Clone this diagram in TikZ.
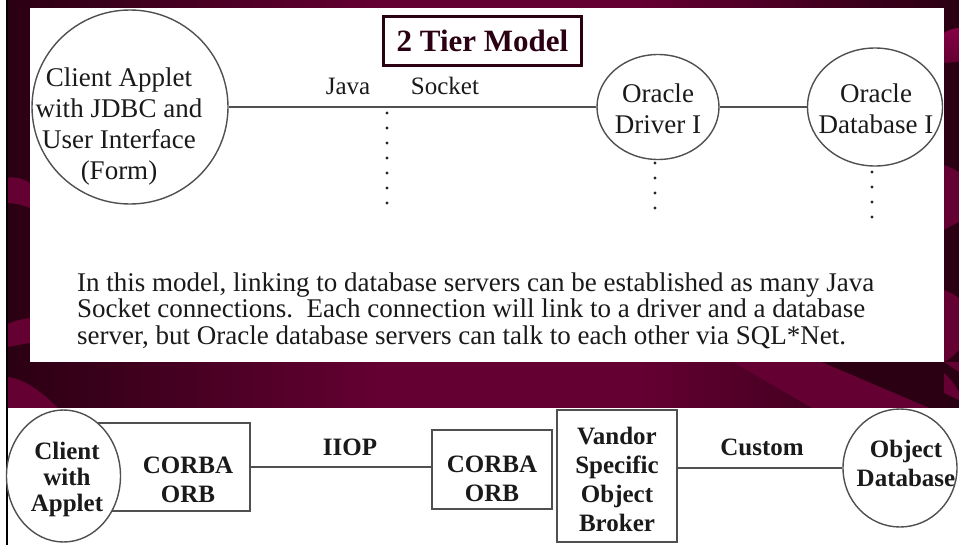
\documentclass[tikz,border=0pt]{standalone}
\usepackage{fontspec}
\setmainfont{Liberation Serif}
\usetikzlibrary{shapes.geometric}
\definecolor{dk}{HTML}{2A0012}
\definecolor{mr}{HTML}{640032}
\definecolor{mb}{HTML}{860046}
\definecolor{ln}{HTML}{505050}
\definecolor{tx}{HTML}{1A1A1A}
\tikzset{
  ell/.style={ellipse, draw=ln, line width=1.4pt, fill=white, inner sep=0pt},
  boxn/.style={rectangle, draw=ln, line width=1.4pt, fill=white, inner sep=0pt},
  txt/.style={align=center, inner sep=0pt, text=tx, font=\fontsize{27}{31}\selectfont},
  btxt/.style={align=center, inner sep=0pt, text=tx, font=\fontsize{25}{29}\selectfont\bfseries},
  conn/.style={draw=ln, line width=1.5pt},
  dotl/.style={draw=black!85, line width=3.2pt, line cap=round, dash pattern=on 0pt off 15pt},
}
\begin{document}
\begin{tikzpicture}[x=1pt,y=-1pt]
\useasboundingbox (0,0) rectangle (959,544);
\begin{scope}
\clip (0,0) rectangle (959,544);
% background
\fill[dk] (0,0) rectangle (959,544);
\shade[left color=dk, right color=mr] (0,0) rectangle (380,408);
\fill[mr] (380,0) rectangle (640,408);
\shade[left color=mr, right color=dk] (640,0) rectangle (959,408);
% diagonal bands between the panels
\fill[mr] (733,362) -- (822,362) -- (930,408) -- (812,408) -- cycle;
\fill[dk] (822,362) -- (944,362) -- (959,372) -- (959,408) -- (930,408) -- cycle;
\fill[mr] (944,362) -- (959,362) -- (959,372) -- cycle;
% left strip bands
\fill[mr] (7,178) .. controls (15,176) and (24,179) .. (30,183) -- (30,208) .. controls (22,205) and (14,203) .. (7,203) -- cycle;
\fill[mr] (7,324) .. controls (15,321) and (22,319) .. (30,318) -- (30,343) .. controls (22,344) and (14,346) .. (7,347) -- cycle;
\fill[mr] (7,377) .. controls (25,378) and (45,395) .. (58,408) -- (7,408) -- cycle;
% right strip bands
\shade[top color=mb, bottom color=mr] (944,33) .. controls (949,30) and (954,28) .. (959,28) -- (959,62) -- (944,63) -- cycle;
\fill[mr] (944,165) .. controls (950,167) and (955,170) .. (959,172) -- (959,222) .. controls (954,224) and (949,227) .. (944,230) -- cycle;
\fill[mr] (944,290) .. controls (950,292) and (955,295) .. (959,298) -- (959,350) .. controls (954,355) and (949,360) .. (944,362) -- cycle;
\fill[mr] (944,373) .. controls (950,378) and (955,385) .. (959,392) -- (959,400) -- (944,393) -- cycle;
% left white edge and black rule
\fill[white] (-2,-2) rectangle (6,546);
\fill[black] (6,-2) rectangle (7.5,546);
% panels
\fill[white] (30,8) rectangle (944,362);
\fill[white] (7.5,408) rectangle (961,546);
\end{scope}

% ---- top panel: 2 tier model
\node[ell, minimum width=196, minimum height=194] (cl) at (130,107) {};
\node[txt] (clt) at (119,127) {Client Applet\\with JDBC and\\User Interface\\(Form)};
\node[ell, minimum width=122, minimum height=105] (drv) at (658,107) {};
\node[txt] (drvt) at (658,109) {Oracle\\Driver I};
\node[ell, minimum width=135, minimum height=118] (db) at (875,107) {};
\node[txt] (dbt) at (876,109) {Oracle\\Database I};
\draw[conn] (cl.east) -- (cl.east -| drv.west);
\draw[conn] (drv.east) -- (drv.east -| db.west);
\node[txt, anchor=base, font=\fontsize{25}{29}\selectfont] (java) at (348,94) {Java};
\node[txt, anchor=base, font=\fontsize{25}{29}\selectfont] (sock) at (445,94) {Socket};
\coordinate (j1) at (387,113);
\coordinate (j2) at (387,204);
\draw[dotl] (j1) -- (j2);
\coordinate (d1) at (655,163);
\coordinate (d2) at (655,209);
\draw[dotl] (d1) -- (d2);
\coordinate (e1) at (872,172);
\coordinate (e2) at (872,218);
\draw[dotl] (e1) -- (e2);
\node[rectangle, draw=dk, line width=3pt, fill=white, minimum width=198, minimum height=49, inner sep=0pt, text=dk, font=\fontsize{31}{31}\selectfont\bfseries] (title) at (482.5,41) {2 Tier Model};
\node[txt, anchor=base west] (p1) at (77,291) {In this model, linking to database servers can be established as many Java};
\node[txt, anchor=base west] (p2) at (77,317.5) {Socket connections.\ \ Each connection will link to a driver and a database};
\node[txt, anchor=base west] (p3) at (77,344) {server, but Oracle database servers can talk to each other via SQL*Net.};

% ---- bottom panel: CORBA
\node[boxn, minimum width=170, minimum height=88] (b1) at (165,467) {};
\node[ell, minimum width=114, minimum height=132] (bc) at (63.5,476) {};
\node[btxt, font=\fontsize{25}{26}\selectfont\bfseries] (bct) at (67,479) {Client\\with\\Applet};
\node[btxt] (b1t) at (188,480) {CORBA\\ORB};
\node[boxn, minimum width=120, minimum height=79] (b2) at (492,469.5) {};
\node[btxt] (b2t) at (492,479) {CORBA\\ORB};
\node[boxn, minimum width=120, minimum height=132] (vb) at (617,476) {};
\node[btxt] (vbt) at (617,479) {Vandor\\Specific\\Object\\Broker};
\node[ell, minimum width=114, minimum height=118] (od) at (900,468) {};
\node[btxt] (odt) at (906,463) {Object\\Database};
\draw[conn] (b1.east) -- (b1.east -| b2.west);
\draw[conn] (od.west -| vb.east) -- (od.west);
\node[btxt, anchor=base] (iiop) at (350,455) {IIOP};
\node[btxt, anchor=base] (cust) at (762,455) {Custom};
\end{tikzpicture}
\end{document}
